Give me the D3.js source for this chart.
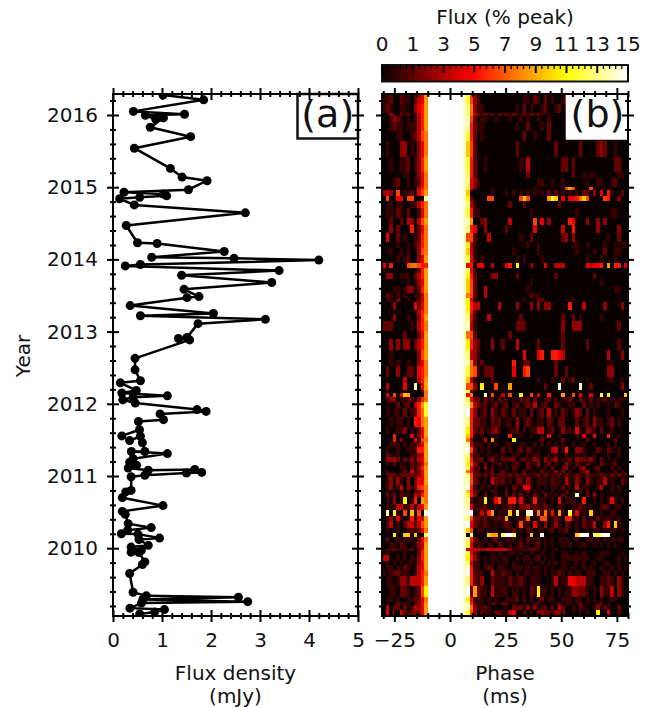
<!DOCTYPE html>
<html><head><meta charset="utf-8">
<script src="https://cdn.jsdelivr.net/npm/d3@7"></script>
<style>html,body{margin:0;padding:0;background:#fff}svg{display:block}text{font-family:"DejaVu Sans";fill:#111}</style>
</head><body><svg id="c" width="656" height="708"></svg>
<script>
// observation series, panel (a)
const obsYear=[2016.277,2016.21,2016.05,2016.01,2015.995,2015.945,2015.96,2015.83,2015.70,2015.54,2015.26,2015.14,2015.09,2014.965,2014.93,2014.905,2014.88,2014.86,2014.84,2014.755,2014.645,2014.47,2014.23,2014.22,2014.11,2014.03,2014.015,2013.99,2013.93,2013.91,2013.845,2013.78,2013.68,2013.585,2013.485,2013.47,2013.36,2013.25,2013.22,2013.17,2013.11,2012.92,2012.905,2012.885,2012.63,2012.47,2012.32,2012.29,2012.185,2012.15,2012.11,2012.09,2012.055,2012.01,2011.92,2011.895,2011.86,2011.78,2011.755,2011.64,2011.555,2011.49,2011.55,2011.46,2011.34,2011.34,2011.31,2011.24,2011.19,2011.15,2011.11,2011.08,2011.09,2011.05,2011.04,2011.01,2010.99,2010.80,2010.78,2010.70,2010.59,2010.51,2010.47,2010.34,2010.285,2010.25,2010.20,2010.195,2010.14,2010.12,2010.04,2010.015,2009.97,2009.945,2009.94,2009.81,2009.775,2009.65,2009.39,2009.34,2009.32,2009.29,2009.26,2009.24,2009.17,2009.15,2009.115,2009.09];
const fluxDensity=[1.02,1.85,0.415,1.46,0.66,0.87,1.03,0.76,1.585,0.435,1.17,1.41,1.92,1.54,0.225,1.03,1.095,0.545,0.135,0.435,2.70,0.27,0.50,0.90,2.27,0.79,2.47,4.20,0.56,0.25,3.39,1.40,3.24,1.45,1.755,1.51,0.35,2.05,0.56,3.11,1.735,1.51,1.335,1.565,0.45,0.45,0.56,0.15,0.475,0.18,1.11,0.41,0.20,0.455,1.715,1.90,0.96,1.03,0.52,0.54,0.18,0.34,0.56,0.60,0.65,0.375,1.11,0.41,0.34,0.48,0.31,0.72,1.67,1.81,1.50,0.65,0.37,0.37,0.26,0.19,1.02,0.19,0.25,0.31,0.78,0.30,0.17,0.51,0.95,0.53,0.72,0.37,0.58,0.37,0.53,0.65,0.60,0.34,0.41,0.68,2.56,0.61,2.75,0.58,0.345,1.05,0.85,0.545];
// axis ticks
const yearTicks=[2010,2011,2012,2013,2014,2015,2016];
const fluxTicks=[0,1,2,3,4,5];
const phaseTicks=[-25,0,25,50,75];
const colorbarLabels=["0","1","3","5","7","9","11","13","15"];
// heat map, panel (b): row edges (year) and per-row flux (% peak).
// Each row: 13 phase bins left of the pulse | 46 phase bins right of it; one hex digit per bin, w = above scale.
const phaseStart=-30.56, phaseBin=1.579, pulseCore="wwwwwwwwwwe";
const rowEdges=[2016.29,2016.15,2016.03,2015.99,2015.90,2015.78,2015.64,2015.42,2015.21,2015.13,2015.00,2014.96,2014.88,2014.81,2014.71,2014.57,2014.48,2014.37,2014.24,2014.16,2014.06,2013.95,2013.88,2013.81,2013.73,2013.63,2013.535,2013.465,2013.41,2013.30,2013.244,2013.147,2013.008,2012.898,2012.745,2012.607,2012.524,2012.371,2012.288,2012.191,2012.15,2012.094,2012.025,2011.942,2011.817,2011.679,2011.582,2011.526,2011.471,2011.402,2011.319,2011.263,2011.194,2011.139,2011.083,2011.042,2010.986,2010.875,2010.806,2010.765,2010.709,2010.612,2010.529,2010.446,2010.377,2010.28,2010.211,2010.155,2010.086,2010.003,2009.961,2009.906,2009.823,2009.767,2009.698,2009.615,2009.476,2009.324,2009.255,2009.213,2009.144,2009.061];
const heatRows=[
"1120021102459|c731000000 0000001102 1020100131 2000000000 000000",
"1210011003569|d831100000 0000102010 0120012010 0000000000 000000",
"0031021201469|d842121202 1212112121 2101000000 0000000000 000000",
"0013210101469|e720110010 0010010100 1001000000 0000000000 000000",
"0012110111469|e621100000 0000100200 0102000000 0000000000 000000",
"0000110012478|c620100000 0000002001 0002000000 0000000000 000000",
"0100033010358|a720000000 0000200000 0000020000 0020000232 001000",
"0010011201369|c620010000 0000010400 0000000220 2000000000 002200",
"0000001100358|d620000000 0000000200 0000000000 2001011000 000110",
"0001200101258|d531000000 0000000000 1100100100 0000100110 012000",
"0000100000468|c520000100 0000000001 0000000079 7000070000 000000",
"3430701120579|a000000100 0101010101 0102020101 0102203050 610020",
"070055077000e|b200007700 000007a700 0009ca0505 568a700007 600300",
"0010110011468|d410000000 0020002000 0000002000 0000000000 000000",
"0110210200158|c611000000 0000000010 0000000000 0100000000 011000",
"0020020430479|e900230000 0040000007 0503000006 5000300303 000000",
"0030200060258|d650030000 0200000005 0000000400 6000000300 000300",
"0500201001268|7720004000 0000010020 0000000230 3000000000 100200",
"0000100101368|b410000000 0000000100 1000000000 1100100001 001011",
"0010010100378|a410000000 0001000000 1000000000 0100001002 001100",
"0000101200359|c510100000 0000101000 0100000000 0000100010 001000",
"5060000788766|5605500400 0560b00030 0050044400 0000545560 906605",
"1000000000269|d510000000 0000000000 0000000000 0000000000 000000",
"0330011102469|b620000330 0000200000 0000020000 0000002000 000000",
"0000000101359|a720000000 0000000010 0000000000 0000000010 000000",
"0001101330269|a720040000 0000000100 0000000000 0000000000 001100",
"0210101001148|8720040000 0000000021 1000000000 0000000000 000000",
"0110200100248|b510000000 0000001000 2200000000 1000000000 000000",
"0003000005258|b644000004 0000300030 3033000006 0004000003 000030",
"0000000000468|c620000000 0000000000 0000000000 0000000000 000000",
"0003000100369|d510004000 0000020000 0000000200 2010000010 000000",
"2220000010468|e410000000 0000222000 0000000300 3330000000 000200",
"0000002000259|8720000000 0020000000 0000000200 0000000000 000000",
"0030303302469|b632000300 2000400000 2000000200 0000200000 000200",
"0010000000379|d431000000 0000005000 5600665400 0000000000 400030",
"0010100100358|e830200000 0006002200 0000020000 0000000000 110000",
"0200300220568|c871022200 0005006700 0000020020 0000000000 330000",
"0000004000469|a410000200 0000000000 1000100201 2000100000 110010",
"040000500e059|7730b00070 0090000000 002000f000 00e0020000 000030",
"0000000000028|c200000000 0000000000 0000000000 0000000000 000000",
"050705a900008|58000e0700 40700b0070 5006000900 7050050 0c0 b0000a",
"0133011220368|c522021102 1101021202 0012010112 0021020112 010110",
"010020120469c|e942120120 1201201214 0120021001 1002010100 102100",
"010110201268c|f630120310 2102011020 1204010210 1320201000 100010",
"0010110106589|d622110212 0110301210 1102102200 0201203110 120100",
"0100113010259|b621201231 0011201011 4401200311 0510321020 010000",
"0006000050359|a610100100 0060010010 0105001000 0105005000 600100",
"0006030005078|8300040900 000b000000 0200000200 0000200000 002000",
"0011101011359|e411101010 0110011001 0101010100 1001001000 101000",
"0100100111669|w720101000 2010120210 1000440160 0331000210 210100",
"0210100011349|d411001010 1001100101 1001010010 0101001000 100100",
"0333202131459|c612201310 2122012113 2031230112 0322131020 101000",
"0102010021248|b731020102 0101200210 3012010031 0210200021 012000",
"0000011021369|d512030201 0102100210 1010200230 1023001200 010100",
"0100002051259|8521001200 2001002001 0201030201 0012400100 002010",
"0222122222359|d722121212 2121212111 2121112121 1211211121 121212",
"0130310302559|e721010421 2010220310 1110211041 0310310114 010021",
"0130140312678|f610101010 0102105510 1010110201 0401100140 010100",
"0101020101248|a521010210 0201010201 0100101020 1010201000 010100",
"0212021104368|c630020010 0202020102 1021010210 0e00203010 001000",
"010301b016098|d2011b0157 1066151016 0110105011 1006001010 151010",
"0110441141459|e511120010 1121022312 1121001100 1121010012 101100",
"0e0b1070a170w|ww01416901 10a1d10ef1 818150910c 15010a1010 011000",
"0130510161549|d722120112 1900111800 1770121066 1102010201 110100",
"0140102442479|f521121010 1210171105 1030131021 0102114003 60a100",
"0100100121258|a701101010 0112010210 1101201120 0100101101 011010",
"000b00aa0a00d|0e0000a990 cffd0000a0 0f00000000 0aeff0dcef f00000",
"0200101110258|d621010120 0111010201 1010101110 0100110101 010110",
"0011021001349|c511101102 1010120101 2010100101 0011001010 101000",
"2212111120259|4444344444 4421111122 1010010000 0000000000 000000",
"0100001000269|c521000101 0011010010 0100100110 0101000011 100010",
"4400101010369|b631010110 1100101101 2010100111 1111100110 000101",
"0101010110359|d411010101 0101001010 0101010100 0101001001 100100",
"0110102101459|e611012101 1001110101 1010100110 1001010010 010101",
"1012211101468|f621100410 2110101101 1010112101 0110111001 101010",
"0110133144469|d621300211 1021121011 1000140115 5444110011 210310",
"001102210127b|f292110411 1101101021 b110101011 3322101031 140310",
"0110100112258|b511101010 0111201010 1201100111 0110101010 011000",
"0000211101359|e621100210 2201001001 2000012011 0120100120 100000",
"0402202014359|e831121000 0102220303 0120204200 1021001302 100200",
"0505042123259|c730211022 1145102010 3322133300 1010100b00 500200"
];

const svg=d3.select("#c");
const top_=94,bottom=616,aL=113,aR=358,bL=382,bR=628;
const y=d3.scaleLinear().domain([2016,2010]).range([115,548.2]);
const xA=d3.scaleLinear().domain([0,5]).range([aL,aR]);
const xB=d3.scaleLinear().domain([phaseStart,80]).range([bL,bR]);
const hot=d3.scaleLinear().domain([0,5.47,11.2,15]).range(["#0b0000","#ff0000","#ffff00","#ffffff"]).clamp(true);
const hex=c=>c==="w"?16:parseInt(c,16);
const defs=svg.append("defs");
defs.append("clipPath").attr("id","ca").append("rect").attr("x",aL).attr("y",top_).attr("width",aR-aL).attr("height",bottom-top_);

// heat map
const cells=[];
heatRows.forEach((row,r)=>{
  const [l,rt]=row.replace(/ /g,"").split("|");
  const s=l.padEnd(13,"0")+pulseCore+rt.padEnd(46,"0");
  for(let i=0;i<s.length;i++)cells.push({r,i,v:hex(s[i])});
});
const gH=svg.append("g");
gH.append("rect").attr("x",bL).attr("y",top_).attr("width",bR-bL).attr("height",bottom-top_).attr("fill","#0b0000");
gH.selectAll("rect.c").data(cells).join("rect").attr("class","c").attr("shape-rendering","crispEdges")
  .attr("x",d=>xB(phaseStart+d.i*phaseBin))
  .attr("width",d=>xB(phaseStart+(d.i+1)*phaseBin)-xB(phaseStart+d.i*phaseBin))
  .attr("y",d=>y(rowEdges[d.r]))
  .attr("height",d=>y(rowEdges[d.r+1])-y(rowEdges[d.r]))
  .attr("fill",d=>hot(d.v));

// series
const gA=svg.append("g").attr("clip-path","url(#ca)");
const pts=obsYear.map((t,i)=>({t,f:fluxDensity[i]}));
gA.append("path").datum(pts).attr("fill","none").attr("stroke","#000").attr("stroke-width",2.5)
  .attr("stroke-linejoin","round").attr("d",d3.line().x(d=>xA(d.f)).y(d=>y(d.t)));
gA.selectAll("circle").data(pts).join("circle").attr("cx",d=>xA(d.f)).attr("cy",d=>y(d.t)).attr("r",4.5).attr("fill","#000");

// inset labels
function inset(x0,x1,label,stroke){
  const g=svg.append("g");
  g.append("rect").attr("x",x0).attr("y",top_).attr("width",x1-x0).attr("height",44.5).attr("fill","#fff").attr("stroke",stroke).attr("stroke-width",2.5);
  g.append("text").attr("x",(x0+x1)/2).attr("y",127).attr("text-anchor","middle").attr("font-size",38).style("fill","#111").text(label);
}
inset(297.5,aR,"(a)","#111");
inset(567,bR,"(b)","#fff");

// frames and ticks
function ticks(g,axisFn,scale,vals,len,fmt,pad){
  const a=axisFn(scale).tickValues(vals).tickSize(len).tickPadding(pad||3);
  a.tickFormat(fmt||(()=>""));
  const s=g.append("g").call(a);
  s.select(".domain").remove();
  s.selectAll("line").attr("stroke","#000").attr("stroke-width",2);
  s.selectAll("text").attr("font-size",20).style("font-family","DejaVu Sans").style("fill","#111");
  return s;
}
const yMinor=d3.range(2009.2,2016.21,0.2).map(v=>+v.toFixed(1)).filter(v=>Math.abs(v-Math.round(v))>1e-6);
function panel(L,R,xs,xMajor,xMinor,xFmt,yFmt){
  svg.append("rect").attr("x",L).attr("y",top_).attr("width",R-L).attr("height",bottom-top_).attr("fill","none").attr("stroke","#000").attr("stroke-width",2);
  const gl=svg.append("g").attr("transform",`translate(${L},0)`);
  const gr=svg.append("g").attr("transform",`translate(${R},0)`);
  const gt=svg.append("g").attr("transform",`translate(0,${top_})`);
  const gb=svg.append("g").attr("transform",`translate(0,${bottom})`);
  [gl,gr].forEach((g,i)=>{
    ticks(g,d3.axisLeft,y,yearTicks,6,i===0?yFmt:null,9);
    ticks(g,d3.axisRight,y,yearTicks,6);
    ticks(g,d3.axisLeft,y,yMinor,3);
    ticks(g,d3.axisRight,y,yMinor,3);
  });
  [gt,gb].forEach((g,i)=>{
    ticks(g,d3.axisTop,xs,xMajor,6);
    ticks(g,d3.axisBottom,xs,xMajor,6,i===1?xFmt:null,11);
    ticks(g,d3.axisTop,xs,xMinor,3);
    ticks(g,d3.axisBottom,xs,xMinor,3);
  });
}
const fluxMinor=d3.range(0,5.01,0.2).map(v=>+v.toFixed(1)).filter(v=>v%1!==0);
const phaseMinor=d3.range(-30,80.01,5).filter(v=>v%25!==0);
panel(aL,aR,xA,fluxTicks,fluxMinor,d3.format("d"),d3.format("d"));
panel(bL,bR,xB,phaseTicks,phaseMinor,v=>v<0?"\u2212"+Math.abs(v):""+v,null);

// colour bar
const cbTop=65,cbBot=81.5;
const cbPos=d3.scalePoint().domain(colorbarLabels).range([bL,bR]);
const cbVal=d3.scaleLinear().domain([0,15]).range([bL,bR]);
const grad=defs.append("linearGradient").attr("id","hot");
[0,5.47,11.2,15].forEach(v=>grad.append("stop").attr("offset",v/15).attr("stop-color",hot(v)));
svg.append("rect").attr("x",bL).attr("y",cbTop).attr("width",bR-bL).attr("height",cbBot-cbTop).attr("fill","url(#hot)").attr("stroke","#111").attr("stroke-width",2);
const cbMinor=d3.range(0,15.001,15/40);
svg.append("g").selectAll("line").data(cbMinor).join("line")
  .attr("x1",d=>cbVal(d)).attr("x2",d=>cbVal(d)).attr("y1",cbTop).attr("y2",(d,i)=>cbTop+(i%5===0?8:4))
  .attr("stroke","#000").attr("stroke-width",(d,i)=>i%5===0?2:1.3);
svg.append("g").selectAll("text").data(colorbarLabels).join("text")
  .attr("x",d=>cbPos(d)).attr("y",51).attr("text-anchor","middle").attr("font-size",20).text(d=>d);

// titles
const title=(x,y0,t)=>svg.append("text").attr("x",x).attr("y",y0).attr("text-anchor","middle").attr("font-size",20).text(t);
title(505,24,"Flux (% peak)");
title(235.5,680,"Flux density");
title(235.5,703,"(mJy)");
title(505,680,"Phase");
title(505,703,"(ms)");
svg.append("text").attr("transform","translate(30,356) rotate(-90)").attr("text-anchor","middle").attr("font-size",20).text("Year");
</script></body></html>
